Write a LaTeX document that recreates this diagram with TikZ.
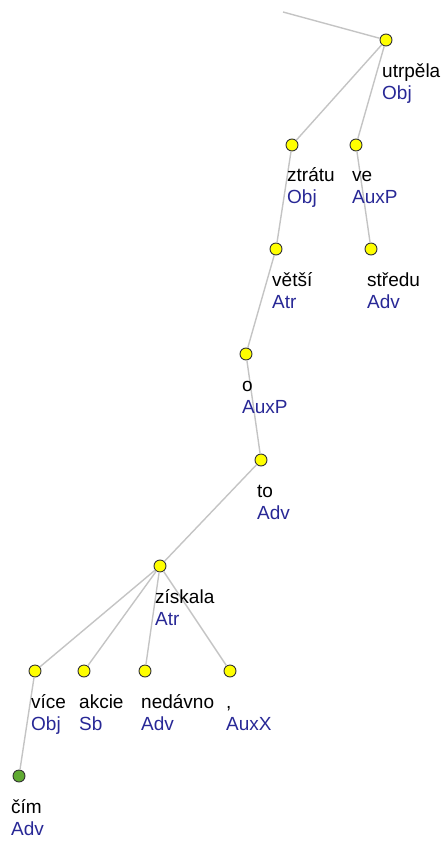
\documentclass[tikz,border=0pt]{standalone}
\usepackage{fontspec}
\setmainfont{Liberation Sans}
\usetikzlibrary{positioning}

\definecolor{edgegray}{RGB}{196,196,196}
\definecolor{fnblue}{RGB}{40,40,150}
\definecolor{tokyellow}{RGB}{255,255,0}
\definecolor{tokgreen}{RGB}{96,170,50}

\tikzset{
  tok/.style={circle, draw=black!80, line width=0.9pt, fill=tokyellow, minimum size=12pt, inner sep=0pt},
  tokleaf/.style={tok, fill=tokgreen},
  wordtxt/.style={anchor=base west, inner sep=0pt, font=\fontsize{19}{22}\selectfont},
  fntxt/.style={wordtxt, text=fnblue},
  edge/.style={draw=edgegray, line width=1.4pt}
}

\begin{document}
\begin{tikzpicture}[x=1pt, y=-1pt]
	\useasboundingbox (0,0) rectangle (443,842);

	% Draw the tokens
	\coordinate (top) at (283,12);
	\node[tok] (utrpela) at (386,40) {};
	\node[tok] (ztratu) at (292,145) {};
	\node[tok] (ve) at (356,145) {};
	\node[tok] (vetsi) at (276,249) {};
	\node[tok] (stredu) at (371,249) {};
	\node[tok] (o) at (246,354) {};
	\node[tok] (to) at (261,460) {};
	\node[tok] (ziskala) at (160,566) {};
	\node[tok] (vice) at (35,671) {};
	\node[tok] (akcie) at (84,671) {};
	\node[tok] (nedavno) at (145,671) {};
	\node[tok] (comma) at (230,671) {};
	\node[tokleaf] (cim) at (19,776) {};

	% Draw the edges between the tokens
	\draw[edge] (top) -- (utrpela);
	\draw[edge] (utrpela) -- (ztratu);
	\draw[edge] (utrpela) -- (ve);
	\draw[edge] (ztratu) -- (vetsi);
	\draw[edge] (ve) -- (stredu);
	\draw[edge] (vetsi) -- (o);
	\draw[edge] (o) -- (to);
	\draw[edge] (to) -- (ziskala);
	\draw[edge] (ziskala) -- (vice);
	\draw[edge] (ziskala) -- (akcie);
	\draw[edge] (ziskala) -- (nedavno);
	\draw[edge] (ziskala) -- (comma);
	\draw[edge] (vice) -- (cim);

	% Draw the word forms and their functions
	\node[wordtxt] (utrpelaW) at (382,78) {utrpěla};
	\node[fntxt] (utrpelaF) at (382,100) {Obj};
	\node[wordtxt] (ztratuW) at (287,182) {ztrátu};
	\node[fntxt] (ztratuF) at (287,204) {Obj};
	\node[wordtxt] (veW) at (352,182) {ve};
	\node[fntxt] (veF) at (352,204) {AuxP};
	\node[wordtxt] (vetsiW) at (272,286) {větší};
	\node[fntxt] (vetsiF) at (272,308) {Atr};
	\node[wordtxt] (streduW) at (367,286) {středu};
	\node[fntxt] (streduF) at (367,308) {Adv};
	\node[wordtxt] (oW) at (242,391) {o};
	\node[fntxt] (oF) at (242,413) {AuxP};
	\node[wordtxt] (toW) at (257,497) {to};
	\node[fntxt] (toF) at (257,519) {Adv};
	\node[wordtxt] (ziskalaW) at (155,603) {získala};
	\node[fntxt] (ziskalaF) at (155,625) {Atr};
	\node[wordtxt] (viceW) at (31,708) {více};
	\node[fntxt] (viceF) at (31,730) {Obj};
	\node[wordtxt] (akcieW) at (79,708) {akcie};
	\node[fntxt] (akcieF) at (79,730) {Sb};
	\node[wordtxt] (nedavnoW) at (141,708) {nedávno};
	\node[fntxt] (nedavnoF) at (141,730) {Adv};
	\node[wordtxt] (commaW) at (226,708) {,};
	\node[fntxt] (commaF) at (226,730) {AuxX};
	\node[wordtxt] (cimW) at (11,813) {čím};
	\node[fntxt] (cimF) at (11,835) {Adv};

\end{tikzpicture}
\end{document}
